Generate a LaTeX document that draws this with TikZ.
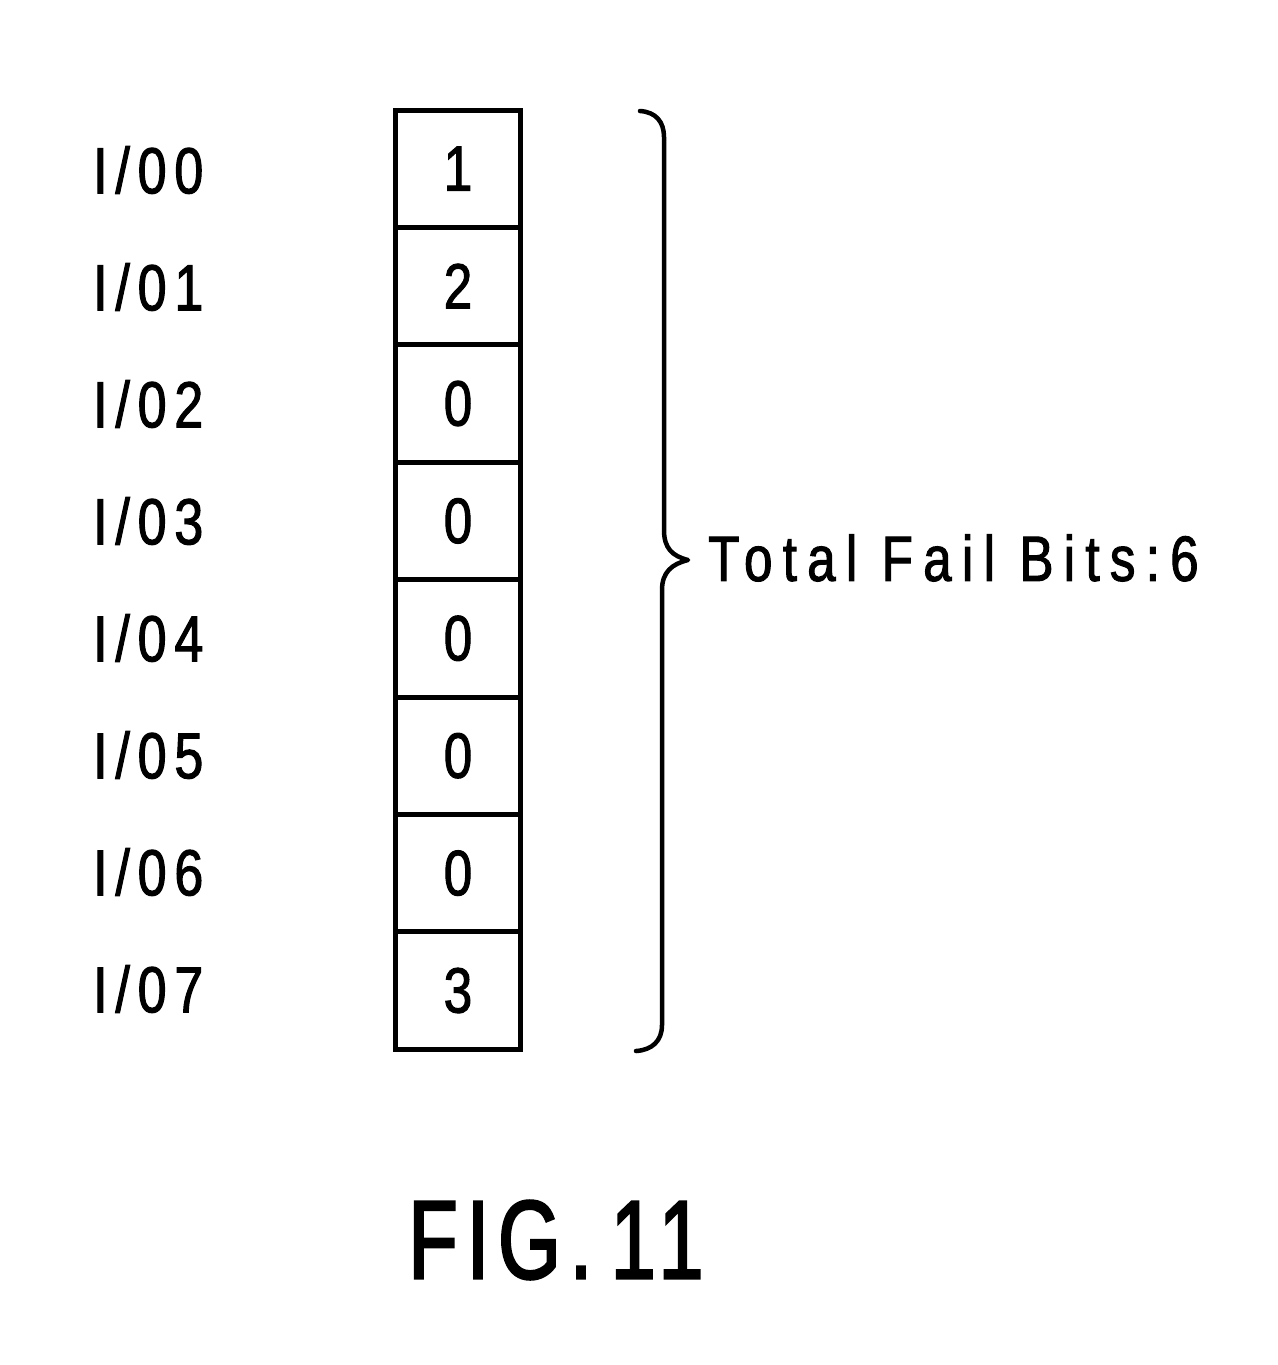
\documentclass[tikz,border=0pt]{standalone}
\usepackage{fontspec}
\newfontfamily\gfont[FakeStretch=0.8,LetterSpace=12,FakeBold=1.6]{Liberation Sans}
\newfontfamily\tfont[FakeStretch=0.8,LetterSpace=16,FakeBold=1.6]{Liberation Sans}
\newfontfamily\figfont[FakeStretch=0.72,LetterSpace=8,FakeBold=2]{Liberation Sans}
\begin{document}
\begin{tikzpicture}[x=1pt,y=-1pt,
  cell/.style={draw=black,line width=5pt,minimum width=125pt,minimum height=117.4pt,inner sep=0pt,font=\gfont\fontsize{64}{64}\selectfont},
  lab/.style={anchor=west,inner sep=0pt,font=\gfont\fontsize{65}{65}\selectfont},
  brace/.style={draw=black,line width=4.5pt,line cap=round,line join=round}]
\useasboundingbox (0,0) rectangle (1277,1365);
\foreach \i/\v in {0/1,1/2,2/0,3/0,4/0,5/0,6/0,7/3}{
  \node[cell] (c\i) at (458,{168.7+117.4*\i}) {\v};
  \node[lab] (l\i) at (93,{170+117*\i}) {I/0\i};
}
\coordinate (btop) at (640,111);
\coordinate (bbot) at (636,1051);
\coordinate (tip) at (688,560);
\draw[brace] (btop) .. controls (656,112) and (664,122) .. (664,137)
  -- (664,530) .. controls (664,548) and (672,556) .. (tip)
  .. controls (672,564) and (662,572) .. (662,590)
  -- (662,1025) .. controls (662,1041) and (652,1050) .. (bbot);
\node[anchor=west,inner sep=0pt,font=\tfont\fontsize{64}{64}\selectfont] (total) at (708,558) {Total Fail Bits:6};
\node[inner sep=0pt,font=\figfont\fontsize{112}{112}\selectfont] (fig) at (556,1240) {FIG.\,11};
\end{tikzpicture}
\end{document}
